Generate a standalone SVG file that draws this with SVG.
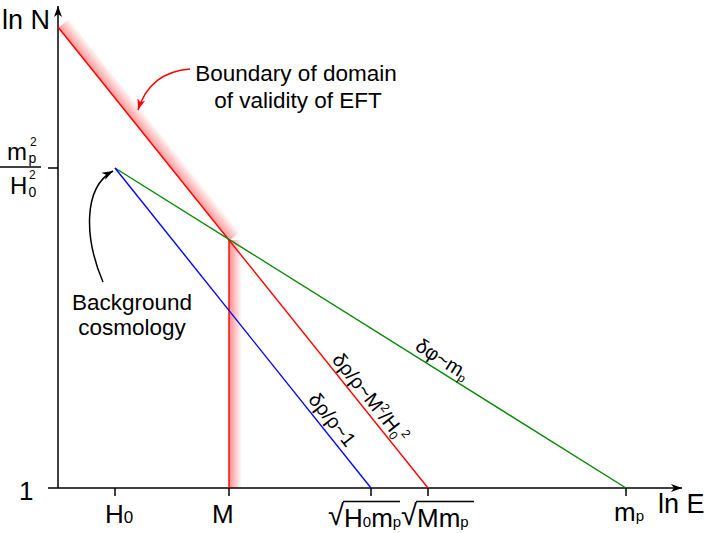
<svg xmlns="http://www.w3.org/2000/svg" width="705" height="533" viewBox="0 0 705 533">
<style>
text{font-family:"Liberation Sans",Arial,sans-serif;fill:#000}
.ax{stroke:#000;stroke-width:1.5;fill:none}
.lbl{font-size:26px}
.fr{font-size:24px}
.big{font-size:27px}
.sm{font-size:14px}
.note{font-size:22.5px;text-anchor:middle}
.rot{font-size:20px;text-anchor:middle}
.rad{font-size:29px}
</style>
<defs>
<marker id="axarr" markerWidth="12" markerHeight="10" refX="11" refY="5" orient="auto" markerUnits="userSpaceOnUse">
<path d="M0,1 L11,5 L0,9 L3,5 z" fill="#000"/>
</marker>
<marker id="redarr" markerWidth="12" markerHeight="10" refX="11" refY="5" orient="auto" markerUnits="userSpaceOnUse">
<path d="M0,1 L11,5 L0,9 L3,5 z" fill="#ff0000"/>
</marker>
<marker id="blkarr" markerWidth="12" markerHeight="10" refX="11" refY="5" orient="auto" markerUnits="userSpaceOnUse">
<path d="M0,1 L11,5 L0,9 L3,5 z" fill="#000"/>
</marker>
<linearGradient id="gDiag" gradientUnits="userSpaceOnUse" x1="57" y1="27.8" x2="69" y2="18.2">
<stop offset="0" stop-color="#ff0000" stop-opacity="0.45"/>
<stop offset="1" stop-color="#ff0000" stop-opacity="0"/>
</linearGradient>
<linearGradient id="gVert" gradientUnits="userSpaceOnUse" x1="229" y1="0" x2="242" y2="0">
<stop offset="0" stop-color="#ff0000" stop-opacity="0.45"/>
<stop offset="1" stop-color="#ff0000" stop-opacity="0"/>
</linearGradient>
</defs>

<g id="shading">
<polygon points="58,28 229,241 239.5,232.5 68.5,19.5" fill="url(#gDiag)"/>
<rect x="229" y="240" width="13" height="248" fill="url(#gVert)"/>
</g>

<g id="axes">
<line class="ax" x1="58" y1="488" x2="58" y2="6" marker-end="url(#axarr)"/>
<line class="ax" x1="48" y1="488" x2="682" y2="488" marker-end="url(#axarr)"/>
<line class="ax" x1="48" y1="168" x2="58" y2="168"/>
<line class="ax" x1="115" y1="488" x2="115" y2="496"/>
<line class="ax" x1="229" y1="488" x2="229" y2="496"/>
<line class="ax" x1="371" y1="488" x2="371" y2="496"/>
<line class="ax" x1="428" y1="488" x2="428" y2="496"/>
<line class="ax" x1="626" y1="488" x2="626" y2="496"/>
</g>

<g id="connectors" fill="none" stroke-width="1.4">
<line id="red-diag" x1="58" y1="27" x2="428" y2="488" stroke="#ff0000"/>
<line id="red-vert" x1="229" y1="240" x2="229" y2="488" stroke="#ff0000"/>
<line id="green" x1="115" y1="168" x2="626" y2="488" stroke="#008800"/>
<line id="blue" x1="115" y1="168" x2="371" y2="488" stroke="#0000ff"/>
<path id="red-arrow" d="M190,69 Q150,72 138,110" stroke="#ff0000" stroke-width="1.5" marker-end="url(#redarr)"/>
<path id="black-arrow" d="M103,282 C85,240 82,188 113,171" stroke="#000" stroke-width="1.5" marker-end="url(#blkarr)"/>
</g>

<g id="axis-labels">
<text class="big" x="2" y="29">ln N</text>
<text class="big" x="658" y="513">ln E</text>
<text class="lbl" x="19" y="500">1</text>
<g id="frac">
<text class="fr" x="7" y="160">m</text>
<text class="sm" x="28.5" y="163">p</text>
<text style="font-size:12px" x="30" y="146">2</text>
<line x1="0" y1="167" x2="41" y2="167" stroke="#000" stroke-width="1.5"/>
<text class="fr" x="10" y="194">H</text>
<text class="sm" x="28.5" y="197">0</text>
<text style="font-size:12px" x="29" y="179">2</text>
</g>
<text class="lbl" x="105" y="523">H<tspan style="font-size:17px">0</tspan></text>
<text class="lbl" x="212" y="523">M</text>
<g id="sqrtH0mp">
<text class="rad" x="328" y="525">√</text>
<line x1="343" y1="501.5" x2="400" y2="501.5" stroke="#000" stroke-width="1.3"/>
<text class="lbl" x="344" y="527">H<tspan style="font-size:15px">0</tspan>m<tspan style="font-size:15px">p</tspan></text>
</g>
<g id="sqrtMmp">
<text class="rad" x="401" y="525">√</text>
<line x1="416" y1="501.5" x2="474" y2="501.5" stroke="#000" stroke-width="1.3"/>
<text class="lbl" x="417" y="527">Mm<tspan style="font-size:15px">p</tspan></text>
</g>
<text class="lbl" x="614" y="521">m<tspan style="font-size:15px">p</tspan></text>
</g>

<g id="notes">
<text class="note" x="296" y="81">Boundary of domain</text>
<text class="note" x="298" y="108">of validity of EFT</text>
<text class="note" x="132" y="310">Background</text>
<text class="note" x="132" y="335">cosmology</text>
</g>

<g id="line-labels">
<text class="rot" transform="translate(327,424) rotate(51.3)">δρ/ρ~1</text>
<text class="rot" transform="translate(365,402) rotate(51.3)">δρ/ρ~M<tspan dy="-8" style="font-size:12px">2</tspan><tspan dy="8">/H</tspan><tspan dy="3" style="font-size:12px">0</tspan><tspan dy="-11" style="font-size:12px">2</tspan></text>
<text class="rot" transform="translate(439,365) rotate(32)">δφ~m<tspan dy="3" style="font-size:12px">p</tspan></text>
</g>
</svg>
